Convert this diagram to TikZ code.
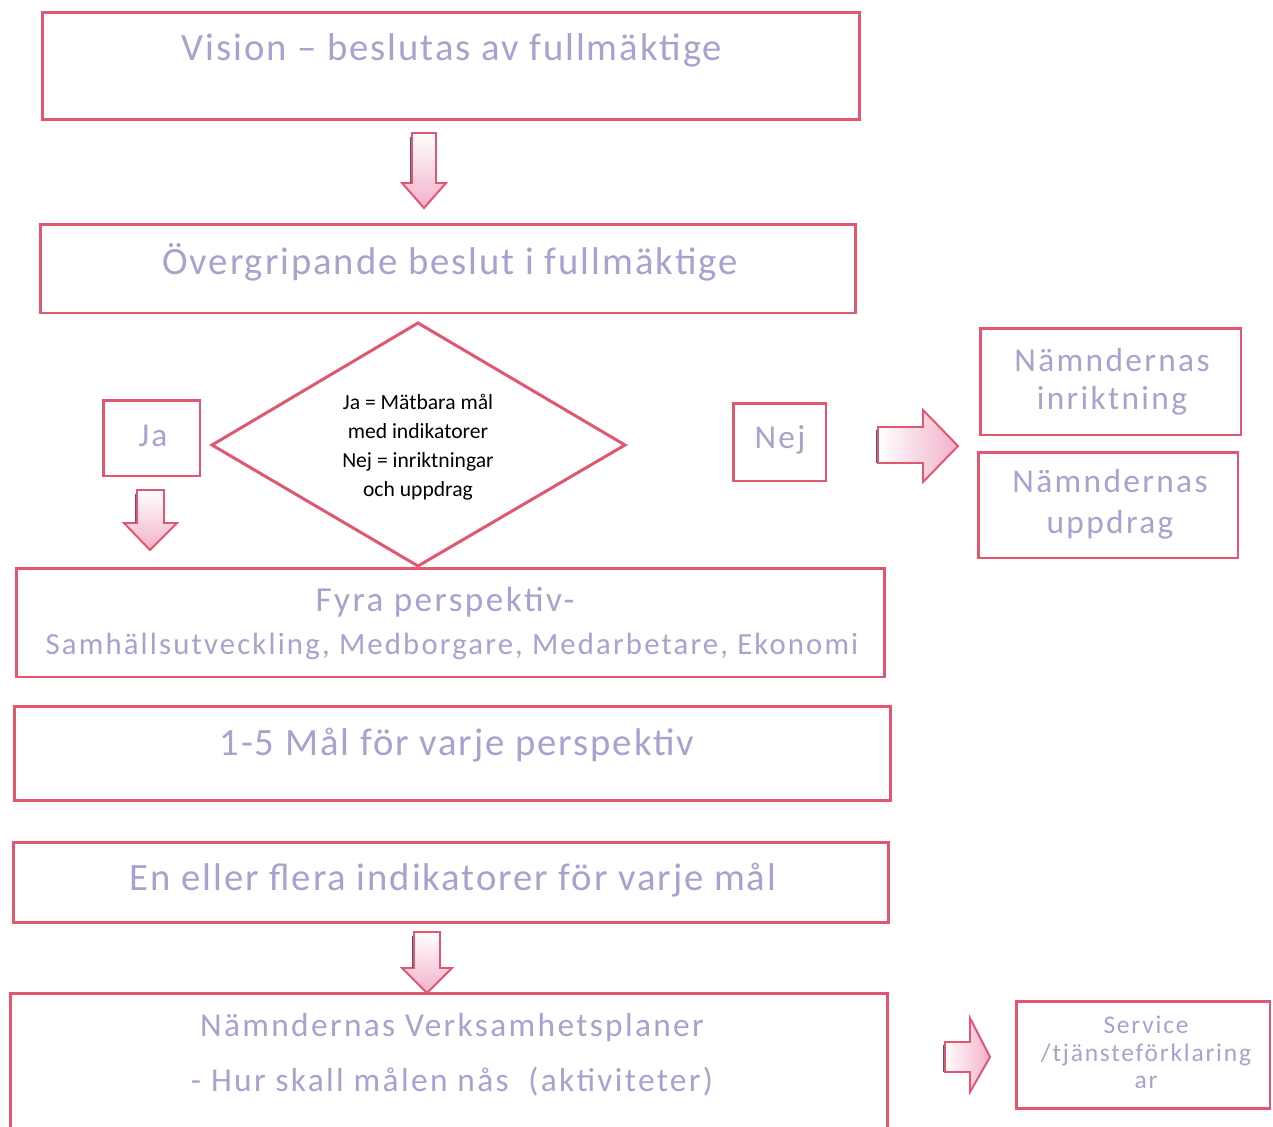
\documentclass[tikz,border=0pt]{standalone}
\usepackage{fontspec}
\setmainfont{Carlito}
\newfontfamily\wide[LetterSpace=5]{Carlito}
\newfontfamily\midwide[LetterSpace=7]{Carlito}
\usetikzlibrary{calc}
\definecolor{frame}{HTML}{E2566F}
\definecolor{txt}{HTML}{A6A3CE}
\definecolor{blush}{HTML}{F2B0CA}

% down-pointing block arrow: shaft left, shaft right, top, head start, head left, head right, tip x, tip y
\newcommand\dnblk[8]{%
  \filldraw[blockarrow, top color=white, bottom color=blush]
    (#1,#3) -- (#2,#3) -- (#2,#4) -- (#6,#4) -- (#7,#8) -- (#5,#4) -- (#1,#4) -- cycle;
  \draw[shadowline] (#1-1.5,#3+4) -- (#1-1.5,#4);}
% right-pointing block arrow: shaft top, shaft bottom, left, head start, head top, head bottom, tip x, tip y
\newcommand\rtblk[8]{%
  \filldraw[blockarrow, left color=white, right color=blush]
    (#3,#1) -- (#4,#1) -- (#4,#5) -- (#7,#8) -- (#4,#6) -- (#4,#2) -- (#3,#2) -- cycle;
  \draw[shadowline] (#3-1.5,#1+3) -- (#3-1.5,#2);}

\begin{document}
\begin{tikzpicture}[x=0.02cm,y=-0.02cm,
  box/.style={draw=frame, line width=1.7pt, inner sep=0pt},
  blockarrow/.style={draw=frame, line width=1.1pt, line join=miter},
  shadowline/.style={draw=black!65, line width=0.9pt},
  big/.style={text=txt, font=\wide\fontsize{22}{26}\selectfont, inner sep=0pt},
  mid/.style={text=txt, font=\midwide\fontsize{19}{23}\selectfont, inner sep=0pt},
  persp/.style={text=txt, font=\midwide\fontsize{17.5}{21}\selectfont, inner sep=0pt},
  small/.style={text=txt, font=\midwide\fontsize{14.5}{17}\selectfont, inner sep=0pt},
  question/.style={text=black, font=\fontsize{12.3}{16.4}\selectfont, align=center, inner sep=0pt}]

\useasboundingbox (0,0) rectangle (1273,1126);
\fill[white] (0,0) rectangle (1273,1126);

% main column of boxes
\node[box, minimum width=16.36cm, minimum height=2.16cm] (vision) at (451,66) {};
\node[big] (visiont) at (452,50) {Vision – beslutas av fullmäktige};

\node[box, minimum width=16.32cm, minimum height=1.78cm] (overg) at (448,268.5) {};
\node[big] (overgt) at (450,262) {Övergripande beslut i fullmäktige};

\node[box, minimum width=1.94cm, minimum height=1.52cm] (ja) at (151.5,438) {};
\node[mid] (jat) at (153,436) {Ja};

% decision diamond
\coordinate (dl) at (212,445);
\coordinate (dt) at (418,323);
\coordinate (dr) at (625,445);
\coordinate (db) at (418,566);
\draw[box] (dl) -- (dt) -- (dr) -- (db) -- cycle;
\node[question] (q) at (418,447) {Ja = Mätbara mål\\med indikatorer\\Nej = inriktningar\\och uppdrag};

\node[box, minimum width=1.86cm, minimum height=1.56cm] (nej) at (779.5,442) {};
\node[mid] (nejt) at (780,440) {Nej};

\node[box, minimum width=5.22cm, minimum height=2.14cm] (inrikt) at (1110.5,381.5) {};
\node[mid] (inrikt1) at (1112,360) {Nämndernas};
\node[mid] (inrikt2) at (1112,401) {inriktning};

\node[box, minimum width=5.2cm, minimum height=2.12cm] (uppdr) at (1108,505) {};
\node[mid] (uppdr1) at (1110,481) {Nämndernas};
\node[mid] (uppdr2) at (1110,525) {uppdrag};

\node[box, minimum width=17.38cm, minimum height=2.18cm] (fyra) at (450.5,622.5) {};
\node[mid, font=\midwide\fontsize{20}{24}\selectfont] (fyra1) at (445,602) {Fyra perspektiv-};
\node[persp] (fyra2) at (452,646) {Samhällsutveckling, Medborgare, Medarbetare, Ekonomi};

\node[box, minimum width=17.54cm, minimum height=1.88cm] (mal) at (452.5,753) {};
\node[big] (malt) at (457,745) {1-5 Mål för varje perspektiv};

\node[box, minimum width=17.52cm, minimum height=1.6cm] (ind) at (451,882) {};
\node[big] (indt) at (453,880) {En eller flera indikatorer för varje mål};

\node[box, minimum width=17.56cm, minimum height=2.94cm] (vp) at (449,1066.5) {};
\node[mid] (vp1) at (452,1028) {Nämndernas Verksamhetsplaner};
\node[mid] (vp2) at (452,1082) {- Hur skall målen nås~ (aktiviteter)};

\node[box, minimum width=5.08cm, minimum height=2.14cm] (serv) at (1143,1054.5) {};
\node[small] (serv1) at (1146,1025) {Service};
\node[small] (serv2) at (1146,1055) {/tjänsteförklaring};
\node[small] (serv3) at (1146,1082) {ar};

% block arrows
\dnblk{412}{436}{133}{183}{402}{446}{424}{208}
\dnblk{137}{164}{490}{523}{124}{177}{150}{550}
\dnblk{414}{440}{932}{968}{402}{452}{427}{993}
\rtblk{427}{463}{878}{923}{410}{482}{958}{446}
\rtblk{1042}{1072}{945}{970}{1018}{1092}{990}{1057}

\end{tikzpicture}
\end{document}
